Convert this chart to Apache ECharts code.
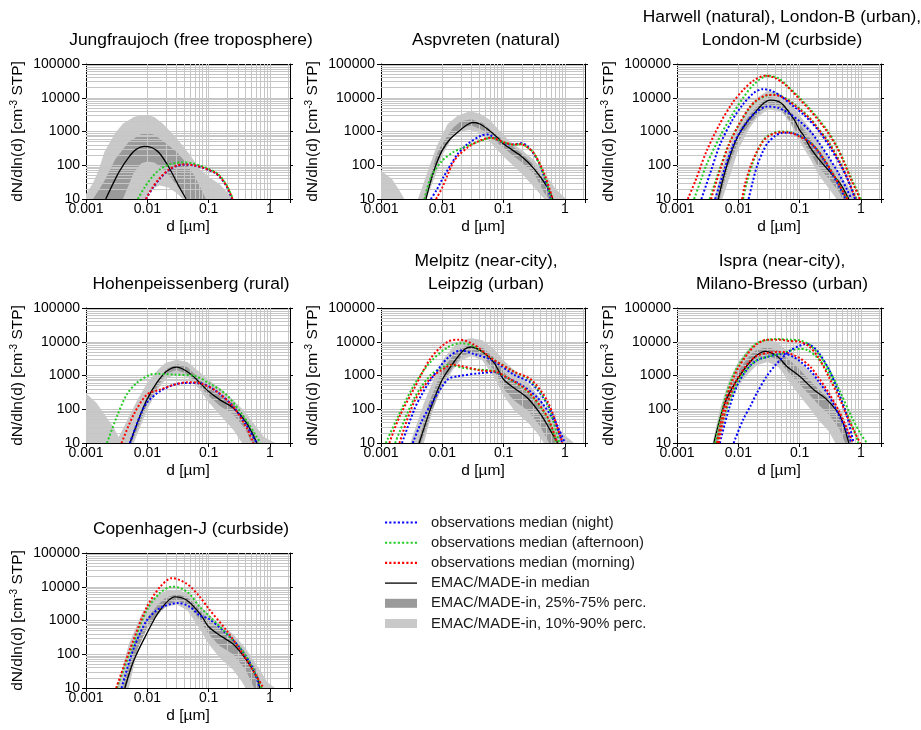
<!DOCTYPE html>
<html>
<head>
<meta charset="utf-8">
<script src="https://cdn.jsdelivr.net/npm/echarts@6/dist/echarts.min.js"></script>
<style>
  html, body { margin: 0; padding: 0; background: #fff; }
  #chart { width: 921px; height: 730px; }
</style>
</head>
<body>
<div id="chart"></div>
<script>
// gridline positions (log paper)
const xGridLines = [0.002, 0.003, 0.004, 0.005, 0.006, 0.007, 0.008, 0.009, 0.01,
  0.02, 0.03, 0.04, 0.05, 0.06, 0.07, 0.08, 0.09, 0.1,
  0.2, 0.3, 0.4, 0.5, 0.6, 0.7, 0.8, 0.9, 1, 2];
const yGridLines = [20, 30, 40, 50, 60, 70, 80, 90, 100,
  200, 300, 400, 500, 600, 700, 800, 900, 1000,
  2000, 3000, 4000, 5000, 6000, 7000, 8000, 9000, 10000,
  20000, 30000, 40000, 50000, 60000, 70000, 80000, 90000];

const legendNames = ['observations median (night)', 'observations median (afternoon)',
  'observations median (morning)', 'EMAC/MADE-in median',
  'EMAC/MADE-in, 25%-75% perc.', 'EMAC/MADE-in, 10%-90% perc.'];

// ---- Jungfraujoch
const jfjLightHi = [[0.001,14],[0.0013,30],[0.0016,70],[0.002,250],[0.003,900],[0.004,1700],[0.006,2700],[0.008,3100],[0.01,3100],[0.013,2700],[0.018,1700],[0.025,900],[0.035,450],[0.05,200],[0.07,80],[0.1,45],[0.15,28],[0.2,16],[0.25,10]];
const jfjLightLo = [[0.001,10],[0.009,10],[0.012,20],[0.016,25],[0.022,22],[0.03,15],[0.038,10],[0.25,10]];
const jfjDarkHi = [[0.0013,10],[0.0016,18],[0.002,35],[0.003,150],[0.005,500],[0.008,850],[0.01,900],[0.013,800],[0.02,450],[0.03,250],[0.043,117],[0.06,45],[0.075,20],[0.09,10]];
const jfjDarkLo = [[0.0013,10],[0.004,10],[0.006,60],[0.008,115],[0.01,130],[0.013,120],[0.018,80],[0.025,40],[0.035,18],[0.045,10],[0.09,10]];
const jfjMedian = [[0.0021,10],[0.0028,30],[0.0035,66],[0.0051,182],[0.0065,290],[0.0089,363],[0.012,330],[0.0157,230],[0.0228,83],[0.033,23],[0.043,10]];
const jfjNight = [[0.0095,10],[0.012,20],[0.016,40],[0.022,70],[0.03,95],[0.04,104],[0.055,100],[0.08,85],[0.1,72],[0.13,58],[0.16,40],[0.2,22],[0.24,10]];
const jfjAfternoon = [[0.007,10],[0.009,22],[0.012,45],[0.016,75],[0.022,103],[0.03,118],[0.04,121],[0.055,113],[0.08,92],[0.1,78],[0.13,62],[0.16,44],[0.2,24],[0.25,10]];
const jfjMorning = [[0.0095,10],[0.012,21],[0.016,42],[0.022,72],[0.03,97],[0.04,106],[0.055,101],[0.08,86],[0.1,73],[0.13,59],[0.16,41],[0.2,23],[0.245,10]];

// ---- Aspvreten
const aspLightHi = [[0.001,69],[0.0015,40],[0.002,18],[0.0024,10],[0.004,10],[0.006,80],[0.008,350],[0.0122,1660],[0.018,3000],[0.028,4000],[0.04,3500],[0.06,2200],[0.1,760],[0.15,400],[0.2,280],[0.316,140],[0.5,50],[0.7,20],[1.04,10]];
const aspLightLo = [[0.001,10],[0.0055,10],[0.008,60],[0.01,200],[0.015,700],[0.02,1000],[0.028,1100],[0.04,900],[0.06,500],[0.1,180],[0.15,90],[0.2,55],[0.316,22],[0.46,10],[1.04,10]];
const aspDarkHi = [[0.005,10],[0.008,200],[0.01,450],[0.015,1300],[0.02,2000],[0.03,2300],[0.045,1800],[0.07,900],[0.1,550],[0.15,330],[0.2,220],[0.316,100],[0.46,35],[0.6,15],[0.65,10]];
const aspDarkLo = [[0.005,10],[0.0055,10],[0.008,100],[0.01,250],[0.015,800],[0.02,1300],[0.03,1500],[0.045,1100],[0.07,550],[0.1,330],[0.15,180],[0.2,120],[0.316,55],[0.46,15],[0.55,10],[0.65,10]];
const aspMedian = [[0.0054,10],[0.0065,35],[0.008,110],[0.01,280],[0.013,560],[0.0178,950],[0.025,1550],[0.031,1850],[0.04,1700],[0.055,1170],[0.08,650],[0.1,425],[0.19,190],[0.316,77],[0.52,22],[0.63,10]];
const aspNight = [[0.0065,10],[0.008,18],[0.01,39],[0.0178,215],[0.026,425],[0.043,760],[0.055,810],[0.08,560],[0.116,425],[0.148,410],[0.19,450],[0.24,380],[0.36,137],[0.46,44],[0.59,10]];
const aspAfternoon = [[0.0051,10],[0.0065,44],[0.01,137],[0.0157,257],[0.02,310],[0.03,420],[0.043,535],[0.062,650],[0.1,480],[0.148,400],[0.19,425],[0.25,330],[0.316,220],[0.46,49],[0.6,10]];
const aspMorning = [[0.0079,10],[0.01,22],[0.0157,137],[0.026,340],[0.043,560],[0.062,650],[0.1,480],[0.148,410],[0.19,425],[0.25,330],[0.316,220],[0.46,56],[0.63,10]];

// ---- Harwell / London-B / London-M
const harLightHi = [[0.004,10],[0.006,150],[0.01,1500],[0.015,5500],[0.02,10000],[0.03,16000],[0.045,14000],[0.07,7000],[0.1,3000],[0.15,1200],[0.2,500],[0.3,160],[0.45,55],[0.65,20],[0.85,10]];
const harLightLo = [[0.004,10],[0.0055,10],[0.008,80],[0.01,300],[0.015,1200],[0.02,2500],[0.03,4500],[0.05,4000],[0.07,1800],[0.1,500],[0.15,150],[0.2,55],[0.3,20],[0.4,10],[0.85,10]];
const harDarkHi = [[0.0045,10],[0.006,100],[0.01,1000],[0.015,3000],[0.02,5500],[0.03,10500],[0.045,9500],[0.07,4000],[0.1,1700],[0.15,600],[0.2,250],[0.3,100],[0.45,35],[0.6,14],[0.65,10]];
const harDarkLo = [[0.0045,10],[0.005,10],[0.007,100],[0.01,500],[0.015,1600],[0.02,3000],[0.03,6500],[0.045,5500],[0.07,2000],[0.1,700],[0.15,230],[0.2,90],[0.3,40],[0.45,15],[0.5,10],[0.65,10]];
const harMedian = [[0.0047,10],[0.006,60],[0.008,300],[0.01,760],[0.014,2000],[0.0178,3300],[0.025,6500],[0.033,8500],[0.045,7800],[0.055,5900],[0.08,2350],[0.1,1100],[0.116,760],[0.148,340],[0.215,137],[0.316,62],[0.46,28],[0.6,12],[0.63,10]];
const lonMNight = [[0.0025,10],[0.0035,60],[0.005,400],[0.008,2200],[0.012,6500],[0.018,14000],[0.025,18000],[0.035,16000],[0.05,11000],[0.08,5500],[0.12,3000],[0.2,1100],[0.3,380],[0.45,110],[0.6,40],[0.8,10]];
const lonMAfternoon = [[0.0019,10],[0.0025,40],[0.003,100],[0.005,700],[0.008,3200],[0.012,10000],[0.018,25000],[0.03,45000],[0.045,38000],[0.062,23000],[0.1,10000],[0.148,4600],[0.2,2400],[0.28,1100],[0.4,380],[0.52,140],[0.7,40],[0.86,18],[1.0,10]];
const lonMMorning = [[0.0015,10],[0.002,35],[0.003,250],[0.005,1700],[0.008,7000],[0.012,17000],[0.018,33000],[0.028,45000],[0.04,38000],[0.062,22000],[0.1,9000],[0.148,4200],[0.2,2200],[0.28,1000],[0.4,350],[0.52,130],[0.7,35],[0.86,16],[0.95,10]];
const lonBNight = [[0.0042,10],[0.006,80],[0.008,350],[0.01,800],[0.015,2300],[0.02,3900],[0.03,5500],[0.045,5000],[0.07,3300],[0.1,2000],[0.15,1000],[0.2,500],[0.3,170],[0.45,50],[0.6,18],[0.7,10]];
const lonBAfternoon = [[0.0034,10],[0.005,80],[0.007,420],[0.01,1500],[0.015,4800],[0.02,8200],[0.03,11800],[0.04,12500],[0.06,9500],[0.1,4800],[0.15,2400],[0.2,1250],[0.3,480],[0.45,130],[0.6,42],[0.75,16],[0.85,10]];
const lonBMorning = [[0.0036,10],[0.005,70],[0.007,400],[0.01,1500],[0.015,5000],[0.02,8500],[0.03,12000],[0.04,12000],[0.06,9000],[0.1,4500],[0.15,2300],[0.2,1200],[0.3,450],[0.45,120],[0.6,40],[0.75,15],[0.82,10]];
const harNight = [[0.0147,10],[0.017,30],[0.02,90],[0.025,250],[0.03,450],[0.04,750],[0.05,900],[0.065,920],[0.08,880],[0.1,750],[0.13,570],[0.18,330],[0.25,140],[0.35,50],[0.45,22],[0.55,11],[0.57,10]];
const harAfternoon = [[0.012,10],[0.014,35],[0.017,110],[0.02,240],[0.025,520],[0.03,740],[0.04,950],[0.05,1000],[0.065,980],[0.08,880],[0.1,720],[0.13,570],[0.18,340],[0.25,150],[0.35,55],[0.45,25],[0.55,13],[0.62,10]];
const harMorning = [[0.0115,10],[0.013,30],[0.016,100],[0.02,250],[0.025,500],[0.03,700],[0.04,900],[0.05,950],[0.065,930],[0.08,850],[0.1,700],[0.13,560],[0.18,330],[0.25,150],[0.35,55],[0.45,25],[0.55,13],[0.6,10]];

// ---- Hohenpeissenberg
const hohLightHi = [[0.001,300],[0.0015,150],[0.002,70],[0.0028,30],[0.0034,15],[0.0038,22],[0.005,60],[0.007,200],[0.01,600],[0.015,1500],[0.02,2400],[0.03,2950],[0.045,2500],[0.07,1300],[0.1,750],[0.15,430],[0.25,190],[0.4,80],[0.6,30],[0.8,15],[1.2,10]];
const hohLightLo = [[0.001,10],[0.006,10],[0.01,100],[0.015,400],[0.02,800],[0.03,1100],[0.045,900],[0.07,400],[0.1,160],[0.15,70],[0.25,25],[0.35,10],[1.2,10]];
const hohDarkHi = [[0.005,10],[0.008,70],[0.01,250],[0.015,700],[0.02,1500],[0.03,2200],[0.045,1800],[0.07,800],[0.1,430],[0.15,260],[0.25,150],[0.4,55],[0.55,20],[0.65,10]];
const hohDarkLo = [[0.005,10],[0.0055,10],[0.008,50],[0.01,150],[0.015,500],[0.02,1100],[0.03,1450],[0.045,1100],[0.07,500],[0.1,250],[0.15,130],[0.25,70],[0.4,25],[0.5,10],[0.65,10]];
const hohMedian = [[0.0052,10],[0.0075,60],[0.0098,190],[0.0142,600],[0.0206,1330],[0.03,1780],[0.044,1330],[0.064,750],[0.099,340],[0.153,190],[0.25,110],[0.417,39],[0.61,10]];
const hohNight = [[0.0052,10],[0.0075,60],[0.0098,155],[0.016,340],[0.027,530],[0.039,600],[0.072,590],[0.134,340],[0.25,120],[0.417,32],[0.61,10]];
const hohAfternoon = [[0.0022,10],[0.0032,62],[0.0046,270],[0.0067,600],[0.011,1050],[0.0142,1120],[0.03,1050],[0.056,1000],[0.1,600],[0.195,270],[0.37,62],[0.61,15],[0.7,10]];
const hohMorning = [[0.0038,10],[0.006,70],[0.0098,270],[0.016,380],[0.027,530],[0.044,630],[0.072,590],[0.134,340],[0.25,120],[0.417,28],[0.53,10]];

// ---- Melpitz / Leipzig
const melLightHi = [[0.003,10],[0.005,150],[0.008,1200],[0.01,2800],[0.015,7000],[0.02,11000],[0.03,13000],[0.045,11000],[0.07,6000],[0.1,2800],[0.15,1400],[0.25,600],[0.4,200],[0.6,60],[0.9,20],[1.4,10]];
const melLightLo = [[0.003,10],[0.005,10],[0.007,100],[0.01,450],[0.015,1500],[0.02,2800],[0.03,3800],[0.045,2800],[0.07,900],[0.1,250],[0.15,90],[0.25,40],[0.35,20],[0.45,10],[1.4,10]];
const melDarkHi = [[0.004,10],[0.006,150],[0.01,1500],[0.015,4000],[0.02,6500],[0.03,8500],[0.045,7000],[0.07,3300],[0.1,1300],[0.15,600],[0.25,300],[0.4,110],[0.6,35],[0.8,10]];
const melDarkLo = [[0.004,10],[0.0045,10],[0.007,100],[0.01,600],[0.015,1800],[0.02,3500],[0.03,5000],[0.045,3800],[0.07,1400],[0.1,400],[0.15,180],[0.25,90],[0.4,30],[0.55,10],[0.8,10]];
const melMedian = [[0.0042,10],[0.0065,110],[0.01,760],[0.0157,2600],[0.0228,5900],[0.0295,7000],[0.048,4650],[0.07,2350],[0.1,760],[0.148,425],[0.245,215],[0.405,69],[0.59,22],[0.76,10]];
const leiNight = [[0.0022,10],[0.0035,100],[0.0045,250],[0.0065,760],[0.0122,3300],[0.02,5500],[0.033,4300],[0.062,2950],[0.148,1050],[0.28,600],[0.52,137],[0.8,25],[1.0,10]];
const leiAfternoon = [[0.0012,10],[0.0018,50],[0.0035,540],[0.0065,2600],[0.0122,6800],[0.02,9100],[0.033,7300],[0.062,3300],[0.148,1300],[0.28,700],[0.52,137],[0.8,11],[0.82,10]];
const leiMorning = [[0.00137,10],[0.002,60],[0.0035,425],[0.0065,3300],[0.0122,10000],[0.019,11500],[0.033,8200],[0.062,3300],[0.148,1300],[0.28,760],[0.52,170],[0.86,14],[0.9,10]];
const mpzNight = [[0.0033,10],[0.0045,40],[0.0065,137],[0.0122,760],[0.0178,950],[0.043,1180],[0.07,1260],[0.1,940],[0.19,540],[0.36,215],[0.67,44],[0.9,10]];
const mpzAfternoon = [[0.0017,10],[0.0035,215],[0.0065,1050],[0.0107,1850],[0.0125,2100],[0.023,1650],[0.043,1480],[0.07,1330],[0.116,840],[0.245,340],[0.52,55],[0.72,10]];
const mpzMorning = [[0.002,10],[0.0035,170],[0.0065,840],[0.012,1850],[0.0138,2100],[0.043,1400],[0.07,1330],[0.116,860],[0.245,350],[0.52,58],[0.74,10]];

// ---- Ispra / Milano-Bresso
const ispLightHi = [[0.0038,10],[0.005,100],[0.007,700],[0.01,2500],[0.015,6500],[0.02,10000],[0.03,12000],[0.045,9000],[0.07,4500],[0.1,2500],[0.15,1300],[0.2,700],[0.3,300],[0.45,100],[0.6,30],[0.75,10]];
const ispLightLo = [[0.0038,10],[0.0048,10],[0.007,150],[0.01,500],[0.015,1200],[0.02,2000],[0.03,2500],[0.045,1800],[0.07,600],[0.1,250],[0.15,100],[0.2,50],[0.3,22],[0.38,10],[0.75,10]];
const ispDarkHi = [[0.0042,10],[0.006,200],[0.01,1400],[0.015,3800],[0.02,5800],[0.03,7000],[0.045,5500],[0.07,2800],[0.1,1500],[0.15,700],[0.2,400],[0.3,200],[0.45,70],[0.6,20],[0.68,10]];
const ispDarkLo = [[0.0042,10],[0.0045,10],[0.006,100],[0.01,800],[0.015,2200],[0.02,3300],[0.03,4000],[0.045,2800],[0.07,1100],[0.1,550],[0.15,250],[0.2,140],[0.3,70],[0.45,25],[0.55,10],[0.68,10]];
const ispMedian = [[0.004,10],[0.006,150],[0.01,850],[0.0178,3300],[0.0275,5200],[0.043,3700],[0.062,1860],[0.1,950],[0.17,380],[0.28,190],[0.46,62],[0.63,10]];
const milNight = [[0.0084,10],[0.012,50],[0.0157,123],[0.02,300],[0.029,950],[0.04,2000],[0.055,3700],[0.07,5500],[0.1,7600],[0.12,8600],[0.15,8000],[0.2,5000],[0.3,1500],[0.4,450],[0.59,62],[0.76,10]];
const milAfternoon = [[0.0042,10],[0.006,200],[0.008,900],[0.01,2000],[0.015,5500],[0.02,9000],[0.03,11500],[0.045,12000],[0.07,11500],[0.1,11000],[0.14,8500],[0.2,4500],[0.3,1500],[0.45,350],[0.7,60],[1.0,18],[1.25,10]];
const milMorning = [[0.0045,10],[0.006,150],[0.008,700],[0.01,1700],[0.015,5000],[0.02,8500],[0.03,11500],[0.045,11500],[0.07,10500],[0.1,10000],[0.14,7500],[0.2,3500],[0.3,900],[0.45,200],[0.6,60],[0.8,20],[0.97,10]];
const ispNight = [[0.005,10],[0.007,100],[0.01,600],[0.015,1800],[0.02,2800],[0.03,3600],[0.045,4200],[0.06,4300],[0.08,3500],[0.1,2700],[0.15,1400],[0.2,700],[0.3,250],[0.45,60],[0.6,20],[0.7,10]];
const ispAfternoon = [[0.0045,10],[0.006,70],[0.008,300],[0.01,700],[0.015,1800],[0.02,2800],[0.03,3600],[0.05,4500],[0.08,5800],[0.1,6100],[0.13,5800],[0.2,3200],[0.3,1100],[0.45,250],[0.6,70],[0.8,20],[0.9,10]];
const ispMorning = [[0.0048,10],[0.006,80],[0.008,400],[0.01,900],[0.015,2500],[0.02,3800],[0.03,4700],[0.045,5000],[0.06,4800],[0.08,4000],[0.1,3300],[0.15,1800],[0.2,900],[0.3,300],[0.45,80],[0.6,25],[0.75,10]];

// ---- Copenhagen-J
const cphLightHi = [[0.0032,10],[0.005,200],[0.008,1500],[0.012,4500],[0.02,7500],[0.03,8000],[0.045,6500],[0.07,3000],[0.1,1500],[0.15,800],[0.25,400],[0.4,150],[0.6,50],[0.9,15],[1.2,10]];
const cphLightLo = [[0.0032,10],[0.005,10],[0.007,150],[0.01,700],[0.015,1600],[0.02,2500],[0.03,3000],[0.045,2000],[0.07,600],[0.1,200],[0.15,80],[0.25,35],[0.35,15],[0.4,10],[1.2,10]];
const cphDarkHi = [[0.004,10],[0.006,200],[0.01,1200],[0.015,3000],[0.02,4800],[0.03,6000],[0.045,5000],[0.07,2200],[0.1,1000],[0.15,550],[0.25,300],[0.4,110],[0.6,35],[0.75,10]];
const cphDarkLo = [[0.004,10],[0.0045,10],[0.007,150],[0.01,600],[0.015,1500],[0.02,2700],[0.03,4000],[0.045,3000],[0.07,1100],[0.1,400],[0.15,180],[0.25,100],[0.4,35],[0.55,10],[0.75,10]];
const cphMedian = [[0.0043,10],[0.006,65],[0.0098,410],[0.016,2000],[0.028,5000],[0.044,4000],[0.072,1600],[0.1,650],[0.153,360],[0.25,200],[0.417,66],[0.61,21],[0.68,10]];
const cphNight = [[0.0038,10],[0.006,150],[0.0098,1000],[0.016,2300],[0.032,3300],[0.05,2500],[0.072,1400],[0.1,1130],[0.195,410],[0.33,148],[0.53,37],[0.68,10]];
const cphAfternoon = [[0.0032,10],[0.006,220],[0.0098,2000],[0.016,6500],[0.026,10200],[0.045,7000],[0.072,2500],[0.1,1400],[0.25,260],[0.417,83],[0.61,21],[0.73,10]];
const cphMorning = [[0.0031,10],[0.0059,260],[0.0098,2500],[0.016,9700],[0.025,18000],[0.044,12300],[0.072,5000],[0.1,2240],[0.195,510],[0.33,130],[0.53,33],[0.78,10]];

const panels = [
  { title: 'Jungfraujoch (free troposphere)', row: 0, col: 0,
    light: [jfjLightHi, jfjLightLo], dark: [jfjDarkHi, jfjDarkLo], median: jfjMedian,
    obs: [[jfjNight, jfjAfternoon, jfjMorning]] },
  { title: 'Aspvreten (natural)', row: 0, col: 1,
    light: [aspLightHi, aspLightLo], dark: [aspDarkHi, aspDarkLo], median: aspMedian,
    obs: [[aspNight, aspAfternoon, aspMorning]] },
  { title: 'Harwell (natural), London-B (urban),\nLondon-M (curbside)', row: 0, col: 2,
    light: [harLightHi, harLightLo], dark: [harDarkHi, harDarkLo], median: harMedian,
    obs: [[harNight, harAfternoon, harMorning], [lonBNight, lonBAfternoon, lonBMorning], [lonMNight, lonMAfternoon, lonMMorning]] },
  { title: 'Hohenpeissenberg (rural)', row: 1, col: 0,
    light: [hohLightHi, hohLightLo], dark: [hohDarkHi, hohDarkLo], median: hohMedian,
    obs: [[hohNight, hohAfternoon, hohMorning]] },
  { title: 'Melpitz (near-city),\nLeipzig (urban)', row: 1, col: 1,
    light: [melLightHi, melLightLo], dark: [melDarkHi, melDarkLo], median: melMedian,
    obs: [[mpzNight, mpzAfternoon, mpzMorning], [leiNight, leiAfternoon, leiMorning]] },
  { title: 'Ispra (near-city),\nMilano-Bresso (urban)', row: 1, col: 2,
    light: [ispLightHi, ispLightLo], dark: [ispDarkHi, ispDarkLo], median: ispMedian,
    obs: [[ispNight, ispAfternoon, ispMorning], [milNight, milAfternoon, milMorning]] },
  { title: 'Copenhagen-J (curbside)', row: 2, col: 0,
    light: [cphLightHi, cphLightLo], dark: [cphDarkHi, cphDarkLo], median: cphMedian,
    obs: [[cphNight, cphAfternoon, cphMorning]] }
];

const FONT = '"Liberation Sans", Arial, Helvetica, sans-serif';
const colLeft = [86, 381, 677];
const rowTop = [64, 308, 553];
const W = 204, H = 135;
const obsColors = ['#0000ff', '#22cc22', '#ff0000'];
const lightGray = '#c9c9c9', darkGray = '#9a9a9a', gridColor = '#c6c6c6';
// legend icons: a row of dots and a thin solid line
const dotIcon = 'path://M0 0h2v2h-2zM4 0h2v2h-2zM8 0h2v2h-2zM12 0h2v2h-2zM16 0h2v2h-2zM20 0h2v2h-2zM24 0h2v2h-2zM28 0h2v2h-2z';
const lineIcon = 'path://M0 0h32v1.3h-32z';

function fmtX(v) {
  const l = Math.log10(v);
  if (Math.abs(l - Math.round(l)) > 1e-6) return '';
  const e = Math.round(l);
  return e < 0 ? v.toFixed(-e) : String(Math.round(v));
}

function bandSeries(name, color, hi, lo, gi) {
  const pts = hi.concat(lo.slice().reverse());
  return {
    type: 'custom', name, xAxisIndex: 2 * gi, yAxisIndex: 2 * gi, z: 1,
    silent: true, clip: true, itemStyle: { color },
    data: [[0.01, 100]],
    renderItem: (params, api) => ({
      type: 'polygon',
      shape: { points: pts.map(p => api.coord(p)) },
      style: { fill: color }
    })
  };
}

const option = {
  animation: false,
  backgroundColor: '#fff',
  textStyle: { fontFamily: FONT },
  title: [], grid: [], xAxis: [], yAxis: [], series: [],
  legend: {
    orient: 'vertical', left: 380, top: 510,
    itemWidth: 32, itemHeight: 9, itemGap: 5.2,
    textStyle: { fontSize: 14.8, color: '#1a1a1a', fontFamily: FONT, lineHeight: 14, padding: [0, 0, 0, 9] },
    data: [
      { name: legendNames[0], icon: dotIcon, itemStyle: { borderWidth: 0 } },
      { name: legendNames[1], icon: dotIcon, itemStyle: { borderWidth: 0 } },
      { name: legendNames[2], icon: dotIcon, itemStyle: { borderWidth: 0 } },
      { name: legendNames[3], icon: lineIcon, itemStyle: { borderWidth: 0 } },
      { name: legendNames[4], icon: 'rect' },
      { name: legendNames[5], icon: 'rect' }
    ]
  }
};

panels.forEach((p, i) => {
  const left = colLeft[p.col], top = rowTop[p.row];
  const twoLines = p.title.indexOf('\n') >= 0;
  option.grid.push({ left, top, width: W, height: H });
  option.title.push({
    text: p.title, left: left + W / 2 - 2, top: top - (twoLines ? 63.5 : 40.5), textAlign: 'center',
    textStyle: { fontSize: 17.4, fontWeight: 'normal', color: '#000', fontFamily: FONT, lineHeight: 23 }
  });
  const frame = { show: true, onZero: false, lineStyle: { color: '#000', width: 1 } };
  option.xAxis.push({
    type: 'log', gridIndex: i, min: 0.001, max: 2.12, position: 'bottom',
    axisLine: frame,
    axisTick: { show: true, inside: false, length: 4, lineStyle: { color: '#000' } },
    axisLabel: { margin: 3, fontSize: 14, color: '#000', fontFamily: FONT, formatter: fmtX },
    splitLine: { show: false },
    name: 'd [µm]', nameLocation: 'middle', nameGap: 20,
    nameTextStyle: { fontSize: 15.5, color: '#000', fontFamily: FONT }
  }, {
    type: 'log', gridIndex: i, min: 0.001, max: 2.12, position: 'top',
    axisLine: frame,
    axisTick: { show: true, inside: true, length: 3, lineStyle: { color: '#000' } },
    axisLabel: { show: false }, splitLine: { show: false }
  });
  option.yAxis.push({
    type: 'log', gridIndex: i, min: 10, max: 100000, position: 'left',
    axisLine: frame,
    axisTick: { show: true, inside: false, length: 4, lineStyle: { color: '#000' } },
    axisLabel: { margin: 6, fontSize: 14, color: '#000', fontFamily: FONT, formatter: v => String(Math.round(v)) },
    splitLine: { show: false },
    name: 'dN/dln(d) [cm{s|-3} STP]', nameLocation: 'middle', nameGap: 60,
    nameTextStyle: { fontSize: 15.5, color: '#000', fontFamily: FONT,
      rich: { s: { fontSize: 10, color: '#000', fontFamily: FONT, verticalAlign: 'top', padding: [0, 0, 7, 0] } } }
  }, {
    type: 'log', gridIndex: i, min: 10, max: 100000, position: 'right',
    axisLine: frame,
    axisTick: { show: true, inside: false, length: 3, lineStyle: { color: '#000' } },
    axisLabel: { show: false }, splitLine: { show: false }
  });

  option.series.push(bandSeries(legendNames[5], lightGray, p.light[0], p.light[1], i));
  option.series.push(bandSeries(legendNames[4], darkGray, p.dark[0], p.dark[1], i));

  // log-paper grid drawn over the bands
  option.series.push({
    type: 'line', xAxisIndex: 2 * i, yAxisIndex: 2 * i, z: 2, silent: true,
    data: [], showSymbol: false,
    markLine: {
      z: 2, silent: true, symbol: ['none', 'none'], label: { show: false },
      lineStyle: { color: gridColor, width: 1, type: 'solid' },
      emphasis: { disabled: true },
      data: xGridLines.map(v => ({ xAxis: v })).concat(yGridLines.map(v => ({ yAxis: v })))
    }
  });

  option.series.push({
    type: 'line', name: legendNames[3], xAxisIndex: 2 * i, yAxisIndex: 2 * i, z: 3,
    data: p.median, smooth: 0.3, showSymbol: false, symbol: 'none',
    lineStyle: { color: '#000', width: 1.3 }, itemStyle: { color: '#000' }
  });

  p.obs.forEach(group => {
    group.forEach((d, k) => {
      option.series.push({
        type: 'line', name: legendNames[k], xAxisIndex: 2 * i, yAxisIndex: 2 * i, z: 4,
        data: d, smooth: 0.3, showSymbol: false, symbol: 'none',
        lineStyle: { color: obsColors[k], width: 2, type: [2, 2] },
        itemStyle: { color: obsColors[k] }
      });
    });
  });
});

const chart = echarts.init(document.getElementById('chart'), null, { renderer: 'canvas' });
chart.setOption(option);
</script>
</body>
</html>
